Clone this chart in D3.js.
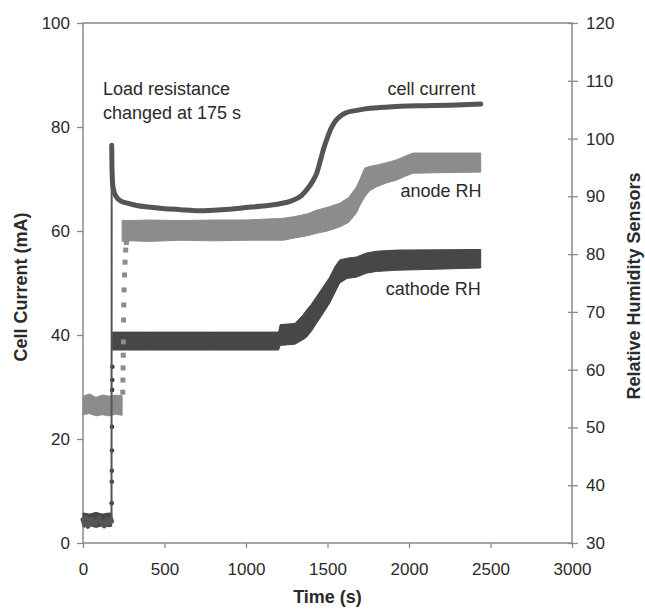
<!DOCTYPE html>
<meta charset="utf-8">
<style type="text/css">
    body{
      margin: 0;
      background: #fff;
    }
    svg{
      display: block;
    }
    text{
      font-family: "Liberation Sans", Arial, sans-serif;
      fill: #2a2a2a;
    }
    .tick text{
      font-size: 17px;
    }
    .title{
      font-size: 18px;
      font-weight: bold;
    }
    .note{
      font-size: 18px;
    }
</style>
<body>
<script src="https://d3js.org/d3.v7.min.js"></script>
<script>

//tick values for the three axes
var timeTicks    = [0, 500, 1000, 1500, 2000, 2500, 3000];
var currentTicks = [0, 20, 40, 60, 80, 100];
var rhTicks      = [30, 40, 50, 60, 70, 80, 90, 100, 110, 120];

//cell current (mA)
var currentTime  = [0, 10, 20, 30, 40, 55, 70, 85, 100, 115, 130, 145, 160, 170, 175,
                    176, 178, 182, 190, 200, 230, 278, 330, 400, 500, 600, 700, 800, 900,
                    1000, 1100, 1200, 1280, 1340, 1380, 1410, 1435, 1460, 1480, 1500, 1520,
                    1545, 1575, 1610, 1680, 1760, 1850, 1950, 2100, 2250, 2440];
var currentValue = [4.5, 3.5, 4.8, 3.2, 4.3, 4.6, 3.6, 4.2, 4.8, 3.8, 3.3, 4.4, 3.9, 4.6, 4.2,
                    76.5, 72, 69, 67.6, 66.8, 65.8, 65.3, 64.9, 64.6, 64.3, 64.1, 63.9, 64.0, 64.2,
                    64.5, 64.8, 65.2, 65.8, 66.8, 68.2, 69.6, 71.2, 74.0, 76.2, 78.0, 79.6,
                    81.0, 82.0, 82.7, 83.2, 83.6, 83.8, 84.0, 84.1, 84.2, 84.4];

//anode RH (%), spread of the noisy sensor band; null breaks the band at the jump
var anodeTime = [0, 40, 80, 120, 160, 200, 240, 241,
                 240, 300, 400, 600, 800, 1000, 1228, 1300, 1380, 1432, 1500, 1575, 1630,
                 1677, 1700, 1728, 1760, 1799, 1860, 1922, 1980, 2024, 2200, 2440];
var anodeLow  = [52.2, 52.4, 52.0, 52.2, 52.0, 52.3, 52.1, null,
                 82.2, 82.3, 82.2, 82.4, 82.3, 82.4, 82.4, 82.8, 83.2, 83.6, 84.0, 84.7, 85.5,
                 87.1, 88.5, 89.9, 91.0, 91.6, 92.3, 92.8, 93.5, 94.0, 94.1, 94.2];
var anodeHigh = [55.4, 55.8, 55.2, 55.6, 55.4, 55.6, 55.5, null,
                 85.8, 85.8, 85.9, 85.8, 85.9, 85.9, 86.2, 86.5, 87.0, 87.6, 88.1, 88.8, 89.8,
                 91.6, 93.0, 94.9, 95.2, 95.4, 95.8, 96.3, 97.0, 97.5, 97.5, 97.5];

//anode readings while it climbs after the load change
var anodeStepTime  = [244, 245, 246, 247, 248, 249, 250, 252, 255, 258, 262, 266];
var anodeStepValue = [56.1, 58.2, 60.3, 62.5, 64.8, 68.6, 71.2, 73.8, 76.4, 78.6, 80.7, 82.0];

//cathode RH (%)
var cathodeTime = [0, 40, 80, 120, 160, 176, 177,
                   180, 400, 800, 1200, 1210, 1300, 1350, 1371, 1400, 1432, 1470, 1513, 1545,
                   1575, 1620, 1677, 1739, 1800, 1922, 2440];
var cathodeLow  = [32.8, 33.0, 32.7, 33.0, 32.8, 32.9, null,
                   63.4, 63.4, 63.4, 63.4, 64.2, 64.4, 65.2, 65.6, 66.6, 68.0, 69.6, 71.5, 73.3,
                   75.0, 75.8, 76.0, 76.7, 77.0, 77.2, 77.6];
var cathodeHigh = [35.2, 35.0, 35.3, 35.0, 35.2, 35.1, null,
                   66.5, 66.5, 66.5, 66.5, 67.8, 68.0, 69.5, 70.3, 71.3, 72.6, 74.2, 76.0, 77.8,
                   79.0, 79.3, 79.5, 80.2, 80.5, 80.7, 80.8];

//cathode readings while it climbs
var cathodeStepTime  = [176, 176.5, 177, 177.5, 178, 178.5, 179, 179.5, 180];
var cathodeStepValue = [36.9, 40.6, 42.5, 46.0, 50.1, 53.0, 56.5, 58.2, 60.5];

//frame of the plot
var margin = {top: 23, right: 73, bottom: 67, left: 83},
    width  = 645 - margin.left - margin.right,
    height = 610 - margin.top  - margin.bottom;

var svg = d3.select("body")
  .append("svg")
  .attr("width", 645)
  .attr("height", 610);

var chart = svg.append("g")
  .attr("transform", "translate(" + margin.left + "," + margin.top + ")");

var x = d3.scaleLinear().domain([0, 3000]).range([0, width]);
var yLeft = d3.scaleLinear().domain([0, 100]).range([height, 0]);
var yRight = d3.scaleLinear().domain([30, 120]).range([height, 0]);

var axisColor = "#8a8a8a";
var plain = d3.format("d");

//axes
var gx = chart.append("g")
  .attr("transform", "translate(0," + height + ")")
  .call(d3.axisBottom(x).tickValues(timeTicks).tickFormat(plain).tickSize(5).tickPadding(15));

var gl = chart.append("g")
  .call(d3.axisLeft(yLeft).tickValues(currentTicks).tickFormat(plain).tickSize(6).tickPadding(7));

var gr = chart.append("g")
  .attr("transform", "translate(" + width + ",0)")
  .call(d3.axisRight(yRight).tickValues(rhTicks).tickFormat(plain).tickSize(6).tickPadding(8));

gr.selectAll(".tick line").attr("x1", -4);

[gx, gl, gr].forEach(function(g){
  g.select(".domain").remove();
  g.selectAll(".tick line").attr("stroke", axisColor).attr("stroke-width", 1.3);
  g.selectAll(".tick text").attr("fill", "#2a2a2a").style("font-family", null);
});

chart.append("rect")
  .attr("width", width)
  .attr("height", height)
  .attr("fill", "none")
  .attr("stroke", axisColor)
  .attr("stroke-width", 1.5);

//build row objects for the bands
function rows(t, lo, hi){
  return t.map(function(d, i){ return {t: d, lo: lo[i], hi: hi[i]}; });
}

var band = d3.area()
  .defined(function(d){ return d.lo != null; })
  .x(function(d){ return x(d.t); })
  .y0(function(d){ return yRight(d.lo); })
  .y1(function(d){ return yRight(d.hi); });

//cathode RH
chart.append("path")
  .datum(rows(cathodeTime, cathodeLow, cathodeHigh))
  .attr("d", band)
  .attr("fill", "#474747")
  .attr("stroke", "#474747")
  .attr("stroke-width", 1);

chart.selectAll(".cstep")
  .data(cathodeStepTime)
  .enter().append("circle")
  .attr("class", "cstep")
  .attr("cx", function(d){ return x(d); })
  .attr("cy", function(d, i){ return yRight(cathodeStepValue[i]); })
  .attr("r", 2.3)
  .attr("fill", "#3c3c3c");

//anode RH
chart.append("path")
  .datum(rows(anodeTime, anodeLow, anodeHigh))
  .attr("d", band)
  .attr("fill", "#8c8c8c")
  .attr("stroke", "#8c8c8c")
  .attr("stroke-width", 1);

chart.selectAll(".astep")
  .data(anodeStepTime)
  .enter().append("rect")
  .attr("class", "astep")
  .attr("x", function(d){ return x(d) - 2.5; })
  .attr("y", function(d, i){ return yRight(anodeStepValue[i]) - 2.5; })
  .attr("width", 5)
  .attr("height", 5)
  .attr("fill", "#8c8c8c");

//cell current: thin line for the jump, thick where the points crowd together
var current = currentTime.map(function(d, i){ return {t: d, v: currentValue[i]}; });

var line = d3.line()
  .x(function(d){ return x(d.t); })
  .y(function(d){ return yLeft(d.v); });

var smooth = d3.line()
  .curve(d3.curveMonotoneX)
  .x(function(d){ return x(d.t); })
  .y(function(d){ return yLeft(d.v); });

chart.append("path")
  .datum(current)
  .attr("d", line)
  .attr("fill", "none")
  .attr("stroke", "#555")
  .attr("stroke-width", 2);

chart.append("path")
  .datum(current.filter(function(d){ return d.t <= 175; }))
  .attr("d", line)
  .attr("fill", "none")
  .attr("stroke", "#555")
  .attr("stroke-width", 5)
  .attr("stroke-linejoin", "round")
  .attr("stroke-linecap", "round");

chart.append("path")
  .datum(current.filter(function(d){ return d.t > 175; }))
  .attr("d", smooth)
  .attr("fill", "none")
  .attr("stroke", "#555")
  .attr("stroke-width", 5)
  .attr("stroke-linejoin", "round")
  .attr("stroke-linecap", "round");

//series labels and the note, placed in data units
chart.append("text")
  .attr("class", "note")
  .attr("x", x(122))
  .attr("y", yLeft(86.1))
  .text("Load resistance")
  .append("tspan")
  .attr("x", x(122))
  .attr("dy", 24)
  .text("changed at 175 s");

var labels = [
  {text: "cell current", t: 2408, v: 86.1},
  {text: "anode RH",     t: 2445, v: 66.5},
  {text: "cathode RH",   t: 2440, v: 47.7}
];

chart.selectAll(".serie")
  .data(labels)
  .enter().append("text")
  .attr("class", "note serie")
  .attr("text-anchor", "end")
  .attr("x", function(d){ return x(d.t); })
  .attr("y", function(d){ return yLeft(d.v); })
  .text(function(d){ return d.text; });

//axis titles
svg.append("text")
  .attr("class", "title")
  .attr("text-anchor", "middle")
  .attr("x", margin.left + width / 2)
  .attr("y", 603)
  .text("Time (s)");

svg.append("text")
  .attr("class", "title")
  .attr("text-anchor", "middle")
  .attr("transform", "translate(27,287) rotate(-90)")
  .text("Cell Current (mA)");

svg.append("text")
  .attr("class", "title")
  .attr("text-anchor", "middle")
  .attr("transform", "translate(640,286) rotate(-90)")
  .text("Relative Humidity Sensors");

</script>
